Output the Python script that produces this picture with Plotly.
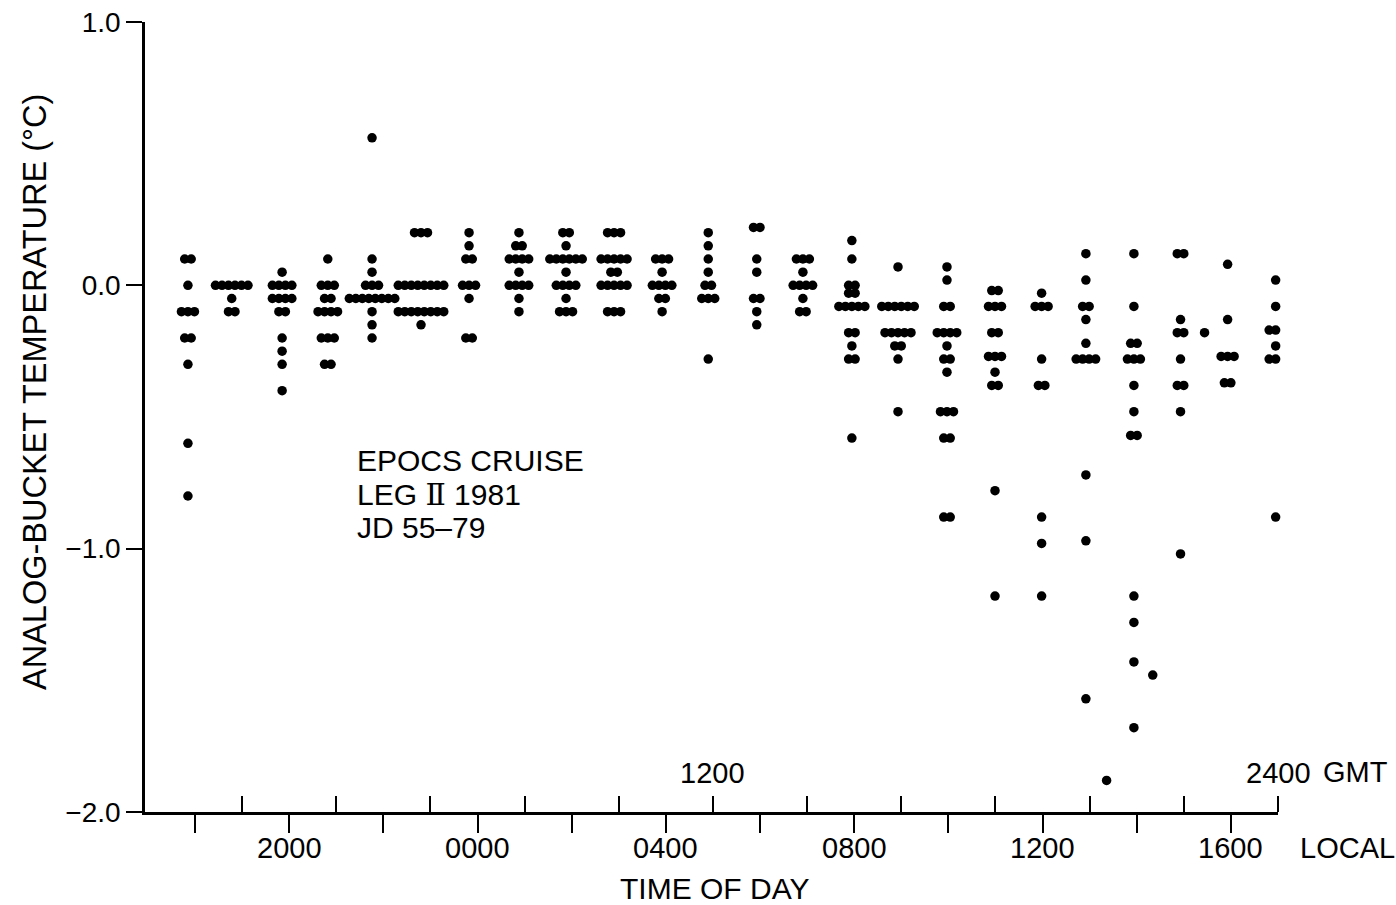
import plotly.graph_objects as go

# ---- data: hours after 1800 local time for each hourly column ----
col_times = [-0.15, 0.78, 1.85, 2.82, 3.76, 4.80, 5.82, 6.88, 7.88, 8.90, 9.92, 10.90,
             11.93, 12.91, 13.95, 14.93, 15.97, 16.99, 17.98, 18.92, 19.94, 20.93, 21.93, 22.95]

# each column: (analog - bucket temperature in degC, number of observations at that value)
c1800 = [(0.10, 2), (0.00, 1), (-0.10, 3), (-0.20, 2), (-0.30, 1), (-0.60, 1), (-0.80, 1)]
c1900 = [(0.00, 6), (-0.05, 1), (-0.10, 2)]
c2000 = [(0.05, 1), (0.00, 4), (-0.05, 4), (-0.10, 2), (-0.20, 1), (-0.25, 1), (-0.30, 1), (-0.40, 1)]
c2100 = [(0.10, 1), (0.00, 3), (-0.05, 2), (-0.10, 4), (-0.20, 3), (-0.30, 2)]
c2200 = [(0.56, 1), (0.10, 1), (0.05, 1), (0.00, 3), (-0.05, 8), (-0.10, 1), (-0.15, 1), (-0.20, 1)]
c2300 = [(0.20, 3), (0.00, 8), (-0.10, 8), (-0.15, 1)]
c0000 = [(0.20, 1), (0.15, 1), (0.10, 2), (0.00, 3), (-0.05, 1), (-0.20, 2)]
c0100 = [(0.20, 1), (0.15, 2), (0.10, 4), (0.05, 1), (0.00, 4), (-0.05, 1), (-0.10, 1)]
c0200 = [(0.20, 2), (0.15, 1), (0.10, 6), (0.05, 1), (0.00, 4), (-0.05, 1), (-0.10, 3)]
c0300 = [(0.20, 3), (0.10, 5), (0.05, 2), (0.00, 5), (-0.10, 3)]
c0400 = [(0.10, 3), (0.05, 1), (0.00, 4), (-0.05, 2), (-0.10, 1)]
c0500 = [(0.20, 1), (0.15, 1), (0.10, 1), (0.05, 1), (0.00, 2), (-0.05, 3), (-0.28, 1)]
c0600 = [(0.22, 2), (0.10, 1), (0.05, 1), (-0.05, 2), (-0.10, 1), (-0.15, 1)]
c0700 = [(0.10, 3), (0.05, 1), (0.00, 4), (-0.05, 1), (-0.10, 2)]
c0800 = [(0.17, 1), (0.10, 1), (0.00, 2), (-0.03, 2), (-0.08, 5), (-0.18, 2), (-0.23, 1), (-0.28, 2), (-0.58, 1)]
c0900 = [(0.07, 1), (-0.08, 6), (-0.18, 5), (-0.23, 2), (-0.28, 1), (-0.48, 1)]
c1000 = [(0.07, 1), (0.02, 1), (-0.08, 2), (-0.18, 4), (-0.23, 1), (-0.28, 2), (-0.33, 1),
         (-0.48, 3), (-0.58, 2), (-0.88, 2)]
c1100 = [(-0.02, 2), (-0.08, 3), (-0.18, 2), (-0.27, 3), (-0.33, 1), (-0.38, 2), (-0.78, 1), (-1.18, 1)]
c1200 = [(-0.03, 1), (-0.08, 3), (-0.28, 1), (-0.38, 2), (-0.88, 1), (-0.98, 1), (-1.18, 1)]
c1300 = [(0.12, 1), (0.02, 1), (-0.08, 2), (-0.13, 1), (-0.22, 1), (-0.28, 4), (-0.72, 1), (-0.97, 1), (-1.57, 1)]
c1400 = [(0.12, 1), (-0.08, 1), (-0.22, 2), (-0.28, 3), (-0.38, 1), (-0.48, 1), (-0.57, 2),
         (-1.18, 1), (-1.28, 1), (-1.43, 1), (-1.68, 1)]
c1500 = [(0.12, 2), (-0.13, 1), (-0.18, 2), (-0.28, 1), (-0.38, 2), (-0.48, 1), (-1.02, 1)]
c1600 = [(0.08, 1), (-0.13, 1), (-0.27, 3), (-0.37, 2)]
c1700 = [(0.02, 1), (-0.08, 1), (-0.17, 3), (-0.23, 1), (-0.28, 3), (-0.88, 1)]

columns = [c1800, c1900, c2000, c2100, c2200, c2300, c0000, c0100, c0200, c0300, c0400, c0500,
           c0600, c0700, c0800, c0900, c1000, c1100, c1200, c1300, c1400, c1500, c1600, c1700]

# isolated observations between the hourly columns
extra_times = [19.36, 20.34, 21.44]
extra_values = [-1.88, -1.48, -0.18]

# axis ticks (hours after 1800 local; GMT = local + 7 h)
local_tick_hours = [0, 2, 4, 6, 8, 10, 12, 14, 16, 18, 20, 22]
local_label_hours = [2, 6, 10, 14, 18, 22]
local_label_text = ["2000", "0000", "0400", "0800", "1200", "1600"]
gmt_tick_hours = [1, 3, 5, 7, 9, 11, 13, 15, 17, 19, 21, 23]
gmt_label_hours = [11, 23]
gmt_label_text = ["1200", "2400"]
y_tick_vals = [-2, -1, 0, 1]
y_tick_text = ["\u22122.0", "\u22121.0", "0.0", "1.0"]

# ---- build dot strips (repeated values spread sideways) ----
DOT_STEP = 0.138
xs, ys = [], []
for t, col in zip(col_times, columns):
    for v, n in col:
        for i in range(n):
            xs.append(t + (i - (n - 1) / 2) * DOT_STEP)
            ys.append(v)
xs += extra_times
ys += extra_values

FONT = "Liberation Sans, Arial, sans-serif"
L, R, T, B = 145, 1278, 22, 812


def px_x(p):
    return (p - L) / (R - L)


def px_y(p):
    return (B - p) / (B - T)


fig = go.Figure()
fig.add_trace(go.Scatter(x=xs, y=ys, mode="markers",
                         marker=dict(size=9.5, color="black", line=dict(width=0)),
                         cliponaxis=False, hoverinfo="skip", showlegend=False))

fig.update_layout(
    width=1396, height=905,
    margin=dict(l=L, r=1396 - R, t=T, b=905 - B),
    plot_bgcolor="white", paper_bgcolor="white",
    showlegend=False,
    font=dict(family=FONT, color="black"),
)

fig.update_xaxes(
    range=[-1.062, 23.0], showline=True, linecolor="black", linewidth=2.5,
    showgrid=False, zeroline=False, automargin=False,
    ticks="outside", tickmode="array", tickvals=local_tick_hours, showticklabels=False,
    ticklen=18, tickwidth=2, tickcolor="black",
    minor=dict(tickmode="array", tickvals=gmt_tick_hours, ticks="inside",
               ticklen=16, tickwidth=2, tickcolor="black", showgrid=False),
)
fig.update_yaxes(
    range=[-2, 1], showline=True, linecolor="black", linewidth=2.5,
    showgrid=False, zeroline=False, automargin=False,
    ticks="outside", tickmode="array", tickvals=y_tick_vals, ticktext=y_tick_text,
    ticklen=16, tickwidth=2, tickcolor="black",
    tickfont=dict(family=FONT, size=28, color="black"),
)

ann = [
    dict(text="ANALOG-BUCKET TEMPERATURE (°C)", x=px_x(35), y=px_y(392), textangle=-90,
         xanchor="center", yanchor="middle", font=dict(size=32.5)),
    dict(text="TIME OF DAY", x=px_x(714), y=px_y(888), xanchor="center", yanchor="middle",
         font=dict(size=30)),
    dict(text="GMT", x=px_x(1321), y=px_y(772), xanchor="left", yanchor="middle", font=dict(size=29)),
    dict(text="LOCAL", x=px_x(1298), y=px_y(848), xanchor="left", yanchor="middle", font=dict(size=29)),
    dict(text="EPOCS CRUISE", x=px_x(355), y=px_y(460), xanchor="left", yanchor="middle", font=dict(size=30)),
    dict(text="LEG <span style='font-family:DejaVu Serif'>\u2161</span> 1981", x=px_x(355), y=px_y(494),
         xanchor="left", yanchor="middle", font=dict(size=30)),
    dict(text="JD 55\u201379", x=px_x(355), y=px_y(527), xanchor="left", yanchor="middle", font=dict(size=30)),
]
for a in ann:
    a.update(xref="paper", yref="paper")

# hour labels placed on the data axis at their tick hours
for h, s in zip(local_label_hours, local_label_text):
    ann.append(dict(text=s, x=h, xref="x", y=px_y(848), yref="paper",
                    xanchor="center", yanchor="middle", font=dict(size=29)))
for h, s in zip(gmt_label_hours, gmt_label_text):
    ann.append(dict(text=s, x=h, xref="x", y=px_y(773), yref="paper",
                    xanchor="center", yanchor="middle", font=dict(size=29)))

for a in ann:
    a["showarrow"] = False
    a["font"] = dict(family=FONT, color="black", **a["font"])
fig.update_layout(annotations=ann)

fig.write_html("out.html", config={"displayModeBar": False},
               post_script="document.body.style.margin='0';document.body.style.overflow='hidden';")
